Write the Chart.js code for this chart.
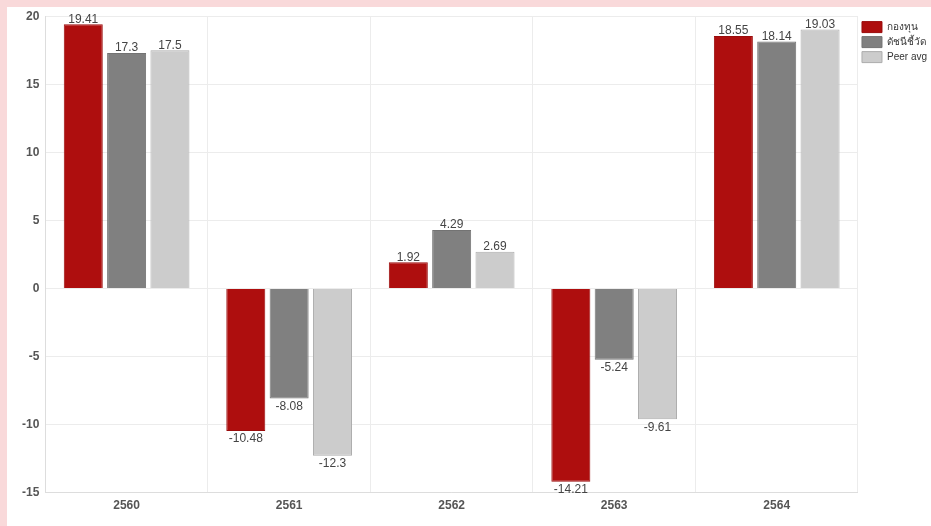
<!DOCTYPE html>
<html>
<head>
<meta charset="utf-8">
<script src="https://cdn.jsdelivr.net/npm/chart.js@4.4.0/dist/chart.umd.min.js"></script>
<style>
  html, body { margin: 0; padding: 0; background: #f9d9da; overflow: hidden; }
  #panel { position: absolute; left: 7px; top: 7px; width: 924px; height: 519px; background: #fff; }
  #wrap { position: absolute; left: 7px; top: 3px; width: 930px; height: 523px; }
</style>
</head>
<body>
<div id="panel"></div>
<div id="wrap"><canvas id="chart"></canvas></div>
<script>
// data
const years = ['2560', '2561', '2562', '2563', '2564'];
const fundReturn = [19.41, -10.48, 1.92, -14.21, 18.55];
const benchmark = [17.3, -8.08, 4.29, -5.24, 18.14];
const peerAvg = [17.5, -12.3, 2.69, -9.61, 19.03];
const seriesNames = ['กองทุน', 'ดัชนีชี้วัด', 'Peer avg'];

// value labels above / below each bar
const valueLabels = {
  id: 'valueLabels',
  afterDatasetsDraw(chart) {
    const ctx = chart.ctx;
    ctx.save();
    ctx.font = '12px Arial, "Liberation Sans", sans-serif';
    ctx.fillStyle = '#444';
    ctx.textAlign = 'center';
    chart.data.datasets.forEach((ds, i) => {
      chart.getDatasetMeta(i).data.forEach((bar, j) => {
        const v = ds.data[j];
        if (v >= 0) {
          ctx.textBaseline = 'bottom';
          ctx.fillText(String(v), bar.x, bar.y + 1);
        } else {
          ctx.textBaseline = 'top';
          ctx.fillText(String(v), bar.x, bar.y + 2);
        }
      });
    });
    ctx.restore();
  }
};

new Chart(document.getElementById('chart'), {
  type: 'bar',
  data: {
    labels: years,
    datasets: [
      { label: seriesNames[0], data: fundReturn, backgroundColor: '#ae0e0e', borderColor: '#9a0c0c', borderWidth: 1 },
      { label: seriesNames[1], data: benchmark, backgroundColor: '#808080', borderColor: '#737373', borderWidth: 1 },
      { label: seriesNames[2], data: peerAvg, backgroundColor: '#cccccc', borderColor: '#adadad', borderWidth: 1 }
    ]
  },
  options: {
    responsive: true,
    maintainAspectRatio: false,
    animation: false,
    barPercentage: 0.9,
    categoryPercentage: 0.8,
    layout: { padding: { top: 1, bottom: 7, right: 0, left: 9 } },
    plugins: {
      tooltip: { enabled: false },
      legend: {
        position: 'right',
        align: 'start',
        title: { display: true, text: ' ', padding: { top: 4, bottom: 0 }, font: { size: 8 } },
        labels: {
          boxWidth: 20,
          boxHeight: 11,
          padding: 4,
          color: '#333',
          font: { family: 'Arial, "Liberation Sans", sans-serif', size: 10 }
        }
      }
    },
    scales: {
      x: {
        grid: { color: '#ececec', offset: true, tickLength: 0 },
        border: { color: '#ddd' },
        ticks: {
          color: '#555',
          padding: 6,
          font: { family: 'Arial, "Liberation Sans", sans-serif', size: 12, weight: 'bold' }
        }
      },
      y: {
        min: -15,
        max: 20,
        grid: { color: '#ececec', tickLength: 0 },
        border: { color: '#ddd' },
        ticks: {
          stepSize: 5,
          color: '#555',
          padding: 6,
          font: { family: 'Arial, "Liberation Sans", sans-serif', size: 12, weight: 'bold' }
        }
      }
    }
  },
  plugins: [valueLabels]
});
</script>
</body>
</html>
